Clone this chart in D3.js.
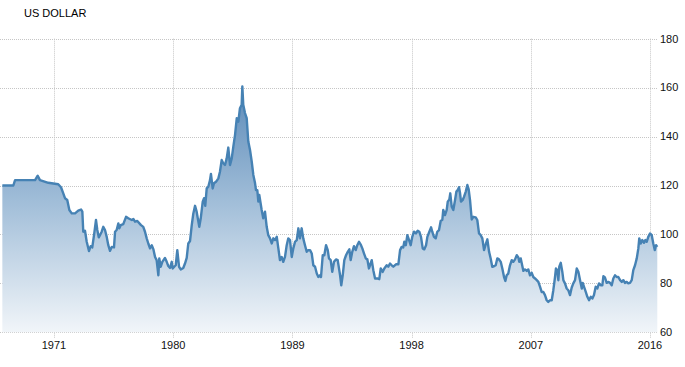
<!DOCTYPE html>
<html><head><meta charset="utf-8">
<script src="https://cdn.jsdelivr.net/npm/d3@7"></script>
<style>body{margin:0;background:#fff}svg{display:block}</style>
</head><body>
<svg id="c" width="685" height="367"></svg>
<script>
const title = "US DOLLAR";
const xTickYears = [1971, 1980, 1989, 1998, 2007, 2016];
const yTicks = [60, 80, 100, 120, 140, 160, 180];
const years = [1967.10,1967.93,1968.06,1969.57,1969.77,1969.94,1970.57,1971.32,1971.53,1971.70,1971.83,1972.00,1972.16,1972.34,1972.59,1972.83,1973.04,1973.14,1973.21,1973.34,1973.47,1973.64,1973.77,1973.89,1974.04,1974.17,1974.27,1974.38,1974.47,1974.60,1974.72,1974.85,1974.98,1975.10,1975.23,1975.36,1975.53,1975.61,1975.73,1975.86,1975.93,1976.04,1976.23,1976.44,1976.61,1976.87,1976.99,1977.12,1977.29,1977.57,1977.74,1977.87,1978.00,1978.12,1978.25,1978.38,1978.50,1978.63,1978.75,1978.88,1978.95,1979.06,1979.18,1979.38,1979.51,1979.63,1979.76,1979.89,1979.96,1980.08,1980.19,1980.31,1980.44,1980.57,1980.76,1980.89,1981.02,1981.14,1981.27,1981.40,1981.52,1981.65,1981.77,1981.97,1982.08,1982.23,1982.33,1982.42,1982.53,1982.65,1982.78,1982.85,1982.98,1983.08,1983.23,1983.41,1983.53,1983.66,1983.78,1983.91,1984.04,1984.16,1984.29,1984.42,1984.54,1984.67,1984.80,1984.92,1985.04,1985.17,1985.22,1985.29,1985.42,1985.55,1985.67,1985.80,1985.93,1986.05,1986.18,1986.25,1986.35,1986.43,1986.50,1986.68,1986.80,1986.93,1987.06,1987.18,1987.31,1987.44,1987.56,1987.69,1987.82,1987.94,1988.06,1988.19,1988.31,1988.44,1988.57,1988.69,1988.82,1988.95,1989.07,1989.20,1989.33,1989.45,1989.57,1989.70,1989.82,1989.95,1990.08,1990.20,1990.33,1990.46,1990.58,1990.71,1990.84,1990.96,1991.08,1991.16,1991.29,1991.41,1991.54,1991.67,1991.76,1991.89,1992.01,1992.14,1992.29,1992.42,1992.60,1992.69,1992.80,1992.92,1993.05,1993.18,1993.30,1993.40,1993.52,1993.65,1993.78,1993.90,1994.03,1994.18,1994.28,1994.41,1994.54,1994.66,1994.78,1994.86,1994.99,1995.11,1995.24,1995.41,1995.56,1995.67,1995.82,1995.94,1996.12,1996.24,1996.37,1996.50,1996.62,1996.82,1997.00,1997.13,1997.25,1997.37,1997.45,1997.56,1997.68,1997.81,1997.93,1998.05,1998.18,1998.33,1998.46,1998.58,1998.71,1998.84,1998.96,1999.09,1999.19,1999.34,1999.47,1999.56,1999.69,1999.82,1999.94,2000.07,2000.20,2000.32,2000.39,2000.52,2000.65,2000.73,2000.85,2000.92,2001.03,2001.15,2001.28,2001.38,2001.48,2001.58,2001.66,2001.73,2001.86,2001.96,2002.09,2002.21,2002.31,2002.41,2002.54,2002.66,2002.84,2002.96,2003.09,2003.22,2003.34,2003.47,2003.60,2003.72,2003.85,2003.97,2004.09,2004.22,2004.35,2004.47,2004.60,2004.73,2004.85,2004.98,2005.08,2005.18,2005.30,2005.43,2005.56,2005.68,2005.81,2005.94,2006.06,2006.13,2006.24,2006.44,2006.56,2006.69,2006.81,2006.94,2007.07,2007.19,2007.32,2007.45,2007.57,2007.70,2007.82,2007.95,2008.07,2008.20,2008.32,2008.45,2008.58,2008.70,2008.83,2008.90,2009.00,2009.08,2009.15,2009.26,2009.38,2009.46,2009.58,2009.71,2009.83,2009.96,2010.09,2010.21,2010.34,2010.47,2010.59,2010.72,2010.85,2010.92,2011.02,2011.15,2011.27,2011.40,2011.53,2011.65,2011.77,2011.90,2012.02,2012.15,2012.28,2012.40,2012.48,2012.60,2012.73,2012.85,2012.98,2013.11,2013.23,2013.36,2013.49,2013.61,2013.74,2013.87,2013.99,2014.11,2014.24,2014.36,2014.49,2014.62,2014.74,2014.87,2015.00,2015.12,2015.19,2015.30,2015.42,2015.55,2015.65,2015.75,2015.87,2016.00,2016.13,2016.25,2016.36,2016.46,2016.55];
const values = [120.0,120.0,122.2,122.2,124.0,122.2,121.1,120.5,119.3,116.8,114.8,114.1,110.0,108.6,108.6,109.7,110.2,109.3,101.1,101.5,97.0,93.2,95.2,94.7,100.4,105.9,101.8,98.8,99.7,101.1,103.1,101.8,99.0,95.6,93.3,94.9,94.7,101.1,101.8,104.5,102.5,103.8,104.2,107.2,106.6,105.9,106.3,105.2,105.5,103.8,103.1,101.1,98.4,96.3,94.3,95.6,94.0,90.8,89.5,83.3,90.2,86.8,88.8,90.4,88.8,87.1,86.3,88.8,86.1,86.8,87.4,93.6,86.8,85.7,86.3,88.1,90.4,96.3,97.3,103.8,108.6,111.7,109.3,103.1,106.6,113.4,114.8,111.7,118.8,119.5,122.2,124.7,118.8,120.9,121.5,122.9,125.6,130.4,129.1,128.4,131.1,135.5,128.4,131.1,135.9,140.7,147.5,146.1,151.6,153.0,160.5,153.0,149.6,147.5,138.0,134.5,129.7,124.3,120.9,118.1,118.1,113.4,116.1,110.0,106.6,109.3,103.1,99.7,98.4,96.3,98.4,97.7,99.0,94.3,89.5,90.8,88.8,90.8,95.6,98.4,97.7,90.8,94.3,97.0,97.7,102.5,98.4,102.5,98.4,95.6,92.9,93.6,93.6,92.2,87.4,86.8,84.0,82.6,83.3,82.6,91.5,91.5,95.6,93.6,90.2,89.5,84.7,88.8,89.8,89.5,83.3,79.2,83.3,89.5,91.5,92.9,93.9,89.5,92.9,95.2,93.6,95.6,97.0,95.6,94.3,92.2,90.2,89.8,86.1,87.4,89.5,85.4,82.0,82.0,81.7,86.1,84.7,86.1,87.4,86.8,88.1,87.4,86.8,87.8,87.8,93.6,94.9,94.7,97.0,95.6,99.7,97.7,95.6,99.0,101.1,100.4,101.5,101.1,99.0,94.3,93.9,95.6,99.0,101.1,102.9,101.1,99.0,98.4,101.1,101.8,105.6,105.9,110.0,107.9,110.0,113.4,114.3,116.8,111.3,110.0,114.1,117.5,118.1,119.3,116.8,113.4,114.1,115.4,117.5,120.2,118.4,114.1,106.1,107.2,107.0,105.9,100.4,99.7,98.4,93.6,96.0,98.0,92.9,90.2,86.8,87.0,87.4,90.2,89.8,88.8,86.1,82.6,81.0,83.3,84.0,87.4,89.5,88.8,89.8,91.5,90.6,88.8,90.2,85.1,85.7,85.1,85.7,83.3,84.3,82.6,82.0,81.3,80.6,78.6,76.5,76.5,75.2,73.1,72.4,73.1,73.1,77.2,82.6,86.1,85.4,81.3,86.8,88.4,84.7,81.3,80.0,77.9,77.2,75.2,78.3,80.0,81.3,86.1,84.7,81.3,77.9,80.2,78.6,76.5,74.5,73.1,74.5,73.8,75.2,78.6,77.9,80.0,79.2,79.2,82.9,82.4,80.2,80.6,80.2,79.2,82.0,83.3,82.6,82.6,81.3,80.6,81.3,80.2,80.6,80.0,80.2,81.3,85.4,87.4,90.2,94.3,98.4,96.3,97.7,96.6,97.7,97.0,99.0,100.4,99.7,96.3,93.6,95.6,94.9];

const data = years.map((y, i) => ({year: y, value: values[i]}));
const svg = d3.select("#c");
const x = d3.scaleLinear().domain([1971, 2016]).range([54, 650]);
const y = d3.scaleLinear().domain([60, 180]).range([332.3, 38.7]);
const gridRight = 657;
const font = "Arial, 'Liberation Sans', sans-serif";

// gradient
const defs = svg.append("defs");
const grad = defs.append("linearGradient").attr("id", "g")
  .attr("gradientUnits", "userSpaceOnUse")
  .attr("x1", 0).attr("x2", 0).attr("y1", y(180)).attr("y2", y(60));
grad.append("stop").attr("offset", "0").attr("stop-color", "#3f75ab");
grad.append("stop").attr("offset", "0.55").attr("stop-color", "#a0bdd8");
grad.append("stop").attr("offset", "1").attr("stop-color", "#f1f5f9");

// horizontal grid
svg.append("g").selectAll("line").data(yTicks).join("line")
  .attr("x1", 0).attr("x2", gridRight)
  .attr("y1", d => Math.round(y(d)) + 0.5).attr("y2", d => Math.round(y(d)) + 0.5)
  .attr("stroke", "#c6c6c6").attr("stroke-width", 1).attr("stroke-dasharray", "1,1");

// vertical grid
svg.append("g").selectAll("line").data(xTickYears).join("line")
  .attr("x1", d => Math.round(x(d)) + 0.5).attr("x2", d => Math.round(x(d)) + 0.5)
  .attr("y1", y(180)).attr("y2", y(60) + 6)
  .attr("stroke", "#c6c6c6").attr("stroke-width", 1).attr("stroke-dasharray", "1,1");

// area
const area = d3.area().x(d => x(d.year)).y0(y(60)).y1(d => y(d.value));
svg.append("path").datum(data).attr("d", area).attr("fill", "url(#g)");

// line
const line = d3.line().x(d => x(d.year)).y(d => y(d.value));
svg.append("path").datum(data).attr("d", line)
  .attr("fill", "none").attr("stroke", "#4682b4").attr("stroke-width", 2.4)
  .attr("stroke-linejoin", "round");

// y labels
svg.append("g").selectAll("text").data(yTicks).join("text")
  .attr("x", 660).attr("y", d => y(d)).attr("dy", "0.35em")
  .attr("font-family", font).attr("font-size", 11).attr("fill", "#111")
  .text(d => d);

// x labels
svg.append("g").selectAll("text").data(xTickYears).join("text")
  .attr("x", d => x(d)).attr("y", 349)
  .attr("text-anchor", "middle")
  .attr("font-family", font).attr("font-size", 11).attr("fill", "#111")
  .text(d => d);

// title
svg.append("text").attr("x", 24).attr("y", 17)
  .attr("font-family", font).attr("font-size", 11).attr("fill", "#000")
  .text(title);
</script>
</body></html>
